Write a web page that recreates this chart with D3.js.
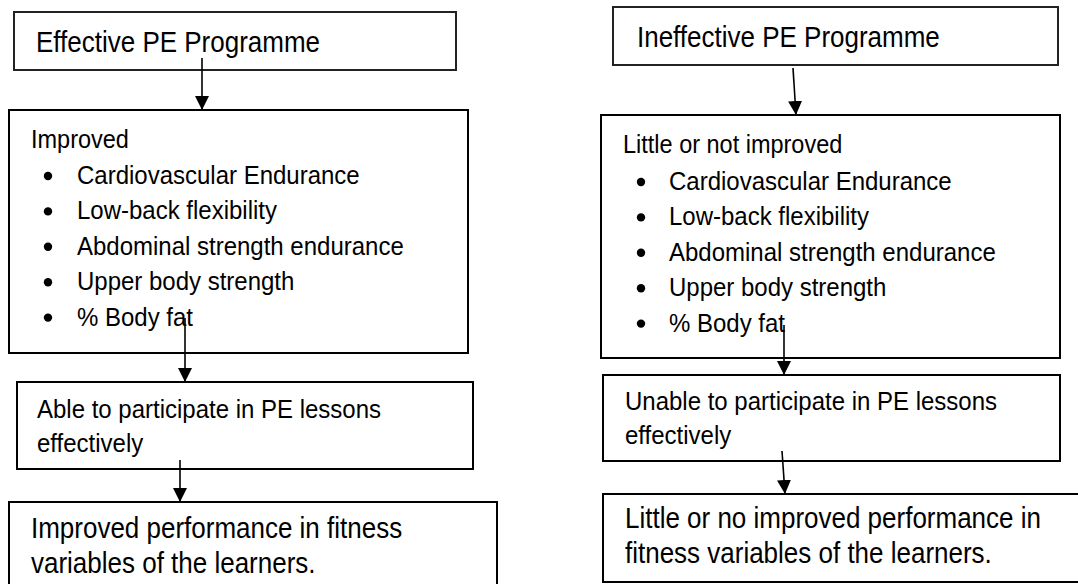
<!DOCTYPE html>
<html>
<head>
<meta charset="utf-8">
<script src="https://cdn.jsdelivr.net/npm/d3@7"></script>
<style>
  body { margin: 0; background: #fff; }
  text { font-family: "Liberation Sans", Arial, sans-serif; fill: #000; }
</style>
</head>
<body>
<svg id="chart"></svg>
<script>
/**
 * Data
 */
const programmes = ["Effective PE Programme", "Ineffective PE Programme"];
const fitnessHeads = ["Improved", "Little or not improved"];
const fitnessItems = ["Cardiovascular Endurance", "Low-back flexibility", "Abdominal strength endurance", "Upper body strength", "% Body fat"];
const participation = [
  ["Able to participate in PE lessons", "effectively"],
  ["Unable to participate in PE lessons", "effectively"]
];
const outcomes = [
  ["Improved performance in fitness", "variables of the learners."],
  ["Little or no improved performance in", "fitness variables of the learners."]
];

/**
 * Layout (one entry per column)
 */
const width = 1078, height = 584;
const sx = 0.91; // glyphs in the original are a little narrow
const cols = [
  { box1: [14, 12, 442, 58], box2: [9, 110, 459, 243], box3: [17, 382, 456, 87], box4: [9, 502, 488, 100],
    t1: [36, 52], head: [31, 148], item: [77, 48, 184], t3: [37, 418], t4: [31, 538],
    arrows: [[202, 58, 202, 110], [185, 318, 185, 382], [180, 460, 180, 502]] },
  { box1: [613, 7, 445, 58], box2: [601, 115, 459, 243], box3: [603, 375, 457, 86], box4: [603, 494, 500, 88],
    t1: [637, 47], head: [623, 153], item: [669, 641, 190], t3: [625, 410], t4: [625, 528],
    arrows: [[793, 68, 796, 115], [784, 325, 784, 375], [782, 451, 785, 494]] }
];
const itemStep = 35.4;

const svg = d3.select("#chart").attr("width", width).attr("height", height);

svg.append("defs").append("marker")
   .attr("id", "head")
   .attr("viewBox", "0 0 10 10")
   .attr("refX", 10).attr("refY", 5)
   .attr("markerUnits", "userSpaceOnUse")
   .attr("markerWidth", 14).attr("markerHeight", 14)
   .attr("orient", "auto")
   .append("path").attr("d", "M0,0 L10,5 L0,10 Z").attr("fill", "#000");

let addText = (g, x, y, size, str) =>
  g.append("text")
   .attr("transform", "translate(" + x + "," + y + ") scale(" + sx + ",1)")
   .style("font-size", (size / sx) + "px")
   .text(str);

cols.forEach((c, i) => {
  const g = svg.append("g");

  // boxes
  [c.box1, c.box2, c.box3, c.box4].forEach((b, k) => {
    g.append("rect")
     .attr("x", b[0]).attr("y", b[1]).attr("width", b[2]).attr("height", b[3])
     .attr("fill", "none")
     .attr("stroke", k === 0 ? "#222" : "#000")
     .attr("stroke-width", 2);
  });

  // arrows
  c.arrows.forEach(a => {
    g.append("line")
     .attr("x1", a[0]).attr("y1", a[1]).attr("x2", a[2]).attr("y2", a[3])
     .attr("stroke", "#000").attr("stroke-width", 1.6)
     .attr("marker-end", "url(#head)");
  });

  // title
  addText(g, c.t1[0], c.t1[1], 26, programmes[i]);

  // fitness box
  addText(g, c.head[0], c.head[1], 23.5, fitnessHeads[i]);
  fitnessItems.forEach((d, k) => {
    g.append("circle")
     .attr("cx", c.item[1])
     .attr("cy", c.item[2] + k * itemStep - 8)
     .attr("r", 4.2).attr("fill", "#000");
    addText(g, c.item[0], c.item[2] + k * itemStep, 24, d);
  });

  // participation box
  participation[i].forEach((line, k) => addText(g, c.t3[0], c.t3[1] + k * 34, 24, line));

  // outcome box
  outcomes[i].forEach((line, k) => addText(g, c.t4[0], c.t4[1] + k * 35, 26, line));
});
</script>
</body>
</html>
